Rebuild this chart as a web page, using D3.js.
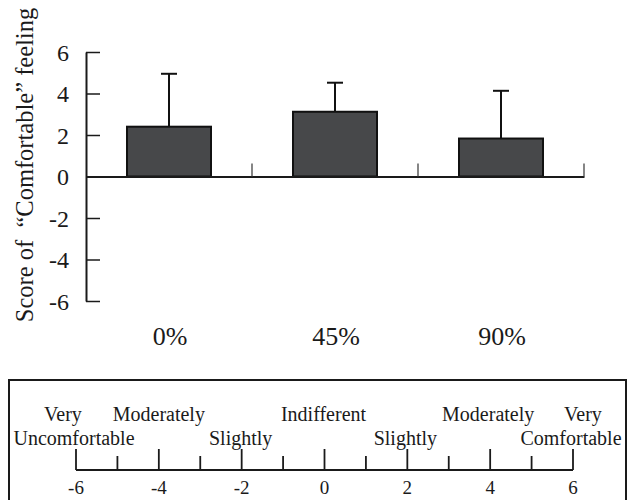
<!DOCTYPE html>
<html>
<head>
<meta charset="utf-8">
<script src="https://cdn.jsdelivr.net/npm/d3@7/dist/d3.min.js"></script>
<style>
html, body { margin: 0; padding: 0; background: #fff; }
svg { display: block; }
svg text { font-family: "Liberation Serif", "Times New Roman", "DejaVu Serif", serif !important; fill: #1a1a1a; }
</style>
</head>
<body>
<svg id="chart" width="632" height="500"></svg>
<script>
// ---- data ----
const categories = ["0%", "45%", "90%"];
const means = [2.4, 3.12, 1.83];
const sds = [2.55, 1.4, 2.3];
const yTicks = [-6, -4, -2, 0, 2, 4, 6];
const yLabel = "Score of  \u201cComfortable\u201d feeling";
const scaleTicks = [-6, -5, -4, -3, -2, -1, 0, 1, 2, 3, 4, 5, 6];
const scaleTickLabels = [-6, -4, -2, 0, 2, 4, 6];
const scaleWords = [
  { text: "Very", value: -6, line: 1, dx: -13 },
  { text: "Uncomfortable", value: -6, line: 2, dx: -2 },
  { text: "Moderately", value: -4, line: 1, dx: 0 },
  { text: "Slightly", value: -2, line: 2, dx: -1 },
  { text: "Indifferent", value: 0, line: 1, dx: -1 },
  { text: "Slightly", value: 2, line: 2, dx: -2 },
  { text: "Moderately", value: 4, line: 1, dx: -2 },
  { text: "Very", value: 6, line: 1, dx: 10 },
  { text: "Comfortable", value: 6, line: 2, dx: -2 }
];

const svg = d3.select("#chart");
const ink = "#1a1a1a";
const serif = "'Liberation Serif', 'Times New Roman', serif";

// ---- main chart ----
const x = d3.scaleBand().domain(categories).range([86, 584]).paddingInner(0).paddingOuter(0);
const y = d3.scaleLinear().domain([-6, 6]).range([301, 52]);

// y axis
const yAxis = d3.axisLeft(y).tickValues(yTicks).tickSizeInner(-14).tickSizeOuter(0).tickPadding(17)
  .tickFormat(d3.format("d"));
const gy = svg.append("g").attr("transform", "translate(86,0)").call(yAxis)
  .attr("font-family", serif);
gy.select(".domain").attr("stroke", ink).attr("stroke-width", 2);
gy.selectAll(".tick line").attr("stroke", ink).attr("stroke-width", 1.5);
gy.selectAll(".tick text").attr("font-size", 24).attr("fill", ink).attr("dy", "0.34em")
  .text(d => d < 0 ? "-" + Math.abs(d) : d);

// bars
const bw = x.bandwidth() * 0.506;
const groups = svg.append("g");
categories.forEach((c, i) => {
  const cx = x(c) + x.bandwidth() / 2;
  groups.append("line")
    .attr("x1", cx).attr("x2", cx)
    .attr("y1", y(means[i])).attr("y2", y(means[i] + sds[i]))
    .attr("stroke", "#111").attr("stroke-width", 2);
  groups.append("line")
    .attr("x1", cx - 8).attr("x2", cx + 8)
    .attr("y1", y(means[i] + sds[i])).attr("y2", y(means[i] + sds[i]))
    .attr("stroke", "#111").attr("stroke-width", 2);
  groups.append("rect")
    .attr("x", cx - bw / 2).attr("width", bw)
    .attr("y", y(means[i])).attr("height", y(0) - y(means[i]))
    .attr("fill", "#47484a").attr("stroke", "#111").attr("stroke-width", 2);
});

// x axis (at zero) with separator ticks
const xAxis = d3.axisTop(x).tickSize(0).tickFormat("");
const gx = svg.append("g").attr("transform", `translate(0,${y(0)})`).call(xAxis);
gx.select(".domain").attr("stroke", ink).attr("stroke-width", 1.8);
const sepPositions = categories.map(c => x(c) + x.bandwidth());
svg.append("g").selectAll("line").data(sepPositions).join("line")
  .attr("x1", d => d).attr("x2", d => d)
  .attr("y1", y(0)).attr("y2", y(0) - 13)
  .attr("stroke", "#444").attr("stroke-width", 1.3);

// category labels
svg.append("g").selectAll("text").data(categories).join("text")
  .attr("x", d => x(d) + x.bandwidth() / 2 + 1)
  .attr("y", 345)
  .attr("text-anchor", "middle")
  .attr("font-family", serif)
  .attr("font-size", 26)
  .text(d => d);

// y label
svg.append("text")
  .attr("transform", "translate(33,165) rotate(-90)")
  .attr("text-anchor", "middle")
  .attr("font-family", serif)
  .attr("font-size", 24.5)
  .attr("xml:space", "preserve")
  .style("white-space", "pre")
  .text(yLabel);

// ---- legend scale box ----
svg.append("rect")
  .attr("x", 9).attr("y", 380).attr("width", 617).attr("height", 140)
  .attr("fill", "none").attr("stroke", ink).attr("stroke-width", 2);

const s = d3.scaleLinear().domain([-6, 6]).range([76, 573]);
const baseY = 470;
svg.append("line")
  .attr("x1", s(-6)).attr("x2", s(6)).attr("y1", baseY).attr("y2", baseY)
  .attr("stroke", ink).attr("stroke-width", 2);
svg.append("g").selectAll("line").data(scaleTicks).join("line")
  .attr("x1", d => s(d)).attr("x2", d => s(d))
  .attr("y1", baseY).attr("y2", d => baseY - (d % 2 === 0 ? 21 : 14))
  .attr("stroke", ink).attr("stroke-width", 1.8);
svg.append("g").selectAll("text").data(scaleTickLabels).join("text")
  .attr("x", d => s(d)).attr("y", 494)
  .attr("text-anchor", "middle")
  .attr("font-family", serif)
  .attr("font-size", 19)
  .text(d => d < 0 ? "-" + Math.abs(d) : d);
svg.append("g").selectAll("text").data(scaleWords).join("text")
  .attr("x", d => s(d.value) + d.dx)
  .attr("y", d => d.line === 1 ? 421 : 445)
  .attr("text-anchor", "middle")
  .attr("font-family", serif)
  .attr("font-size", 20)
  .text(d => d.text);
</script>
</body>
</html>
